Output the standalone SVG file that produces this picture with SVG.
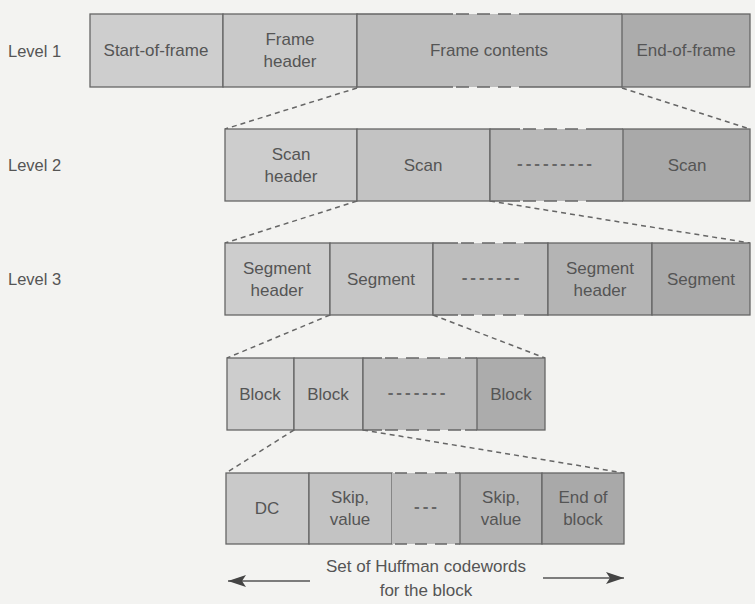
<svg xmlns="http://www.w3.org/2000/svg" width="755" height="604" viewBox="0 0 755 604">
<defs>
<style>
text{font-family:"Liberation Sans",Arial,sans-serif;font-size:17px;fill:#555;text-anchor:middle}
.lvl{text-anchor:start;font-size:16.5px}
.c{stroke:#666;stroke-width:1.3}
.side{stroke:#666;stroke-width:1.3;fill:none}
.dash{stroke:#666;stroke-width:1.3;stroke-dasharray:13 8;fill:none}
.conn{stroke:#666;stroke-width:1.5;stroke-dasharray:5 4;fill:none}
.dots{letter-spacing:3px;font-weight:bold;fill:#666}
.arr{stroke:#555;stroke-width:1.6;fill:none}
</style>
<marker id="ah" viewBox="0 0 18 12" refX="18" refY="6" markerWidth="18" markerHeight="12" markerUnits="userSpaceOnUse" orient="auto">
<path d="M0,0 L18,6 L0,12 L4,6 Z" fill="#444"/>
</marker>
</defs>
<rect width="755" height="604" fill="#f3f3f1"/>

<g id="labels">
<text class="lvl" x="8" y="57">Level 1</text>
<text class="lvl" x="8" y="171">Level 2</text>
<text class="lvl" x="8" y="285">Level 3</text>
</g>

<g id="connectors">
<line class="conn" x1="357" y1="88" x2="225" y2="129"/>
<line class="conn" x1="622" y1="88" x2="750" y2="129"/>
<line class="conn" x1="357" y1="201" x2="225" y2="243"/>
<line class="conn" x1="490" y1="201" x2="750" y2="243"/>
<line class="conn" x1="330" y1="315" x2="227" y2="358"/>
<line class="conn" x1="433" y1="315" x2="545" y2="358"/>
<line class="conn" x1="294" y1="430" x2="226" y2="473"/>
<line class="conn" x1="363" y1="430" x2="624" y2="473"/>
</g>

<!-- Level 1 -->
<g id="start-of-frame">
<rect class="c" x="90" y="14" width="133" height="73" fill="#cecece"/>
<text x="156" y="56">Start-of-frame</text>
</g>
<g id="frame-header">
<rect class="c" x="223" y="14" width="134" height="73" fill="#c9c9c9"/>
<text x="290" y="45">Frame</text>
<text x="290" y="67">header</text>
</g>
<g id="frame-contents">
<rect x="357" y="14" width="265" height="73" fill="#bdbdbd"/>
<path class="side" d="M453,14 H357 V87 H453 M527,14 H622 M527,87 H622"/>
<path class="dash" d="M456,14 H527 M456,87 H527"/>
<text x="489" y="56">Frame contents</text>
</g>
<g id="end-of-frame">
<rect class="c" x="622" y="14" width="128" height="73" fill="#acacac"/>
<text x="686" y="56">End-of-frame</text>
</g>

<!-- Level 2 -->
<g id="scan-header">
<rect class="c" x="225" y="129" width="132" height="72" fill="#cdcdcd"/>
<text x="291" y="160">Scan</text>
<text x="291" y="182">header</text>
</g>
<g id="scan-1">
<rect class="c" x="357" y="129" width="133" height="72" fill="#c3c3c3"/>
<text x="423" y="171">Scan</text>
</g>
<g id="scan-dots">
<rect x="490" y="129" width="133" height="72" fill="#b8b8b8"/>
<path class="side" d="M520,129 H490 V201 H520 M591,129 H623 M591,201 H623"/>
<path class="dash" d="M523,129 H591 M523,201 H591"/>
<text class="dots" x="556" y="169">---------</text>
</g>
<g id="scan-2">
<rect class="c" x="623" y="129" width="127" height="72" fill="#a9a9a9"/>
<text x="687" y="171">Scan</text>
</g>

<!-- Level 3 -->
<g id="segment-header-1">
<rect class="c" x="225" y="243" width="105" height="72" fill="#cdcdcd"/>
<text x="277" y="274">Segment</text>
<text x="277" y="296">header</text>
</g>
<g id="segment-1">
<rect class="c" x="330" y="243" width="103" height="72" fill="#c6c6c6"/>
<text x="381" y="285">Segment</text>
</g>
<g id="segment-dots">
<rect x="433" y="243" width="115" height="72" fill="#bdbdbd"/>
<path class="side" d="M458,243 H433 V315 H458 M530,243 H548 V315 H530"/>
<path class="dash" d="M461,243 H530 M461,315 H530"/>
<text class="dots" x="492" y="283">-------</text>
</g>
<g id="segment-header-2">
<rect class="c" x="548" y="243" width="104" height="72" fill="#b4b4b4"/>
<text x="600" y="274">Segment</text>
<text x="600" y="296">header</text>
</g>
<g id="segment-2">
<rect class="c" x="652" y="243" width="98" height="72" fill="#aaaaaa"/>
<text x="701" y="285">Segment</text>
</g>

<!-- Level 4 -->
<g id="block-1">
<rect class="c" x="227" y="358" width="67" height="72" fill="#cdcdcd"/>
<text x="260" y="400">Block</text>
</g>
<g id="block-2">
<rect class="c" x="294" y="358" width="69" height="72" fill="#c8c8c8"/>
<text x="328" y="400">Block</text>
</g>
<g id="block-dots">
<rect x="363" y="358" width="114" height="72" fill="#bcbcbc"/>
<path class="side" d="M382,358 H363 V430 H382 M465,358 H477 M465,430 H477"/>
<path class="dash" d="M385,358 H465 M385,430 H465"/>
<text class="dots" x="418" y="398">-------</text>
</g>
<g id="block-3">
<rect class="c" x="477" y="358" width="68" height="72" fill="#acacac"/>
<text x="511" y="400">Block</text>
</g>

<!-- Level 5 -->
<g id="dc">
<rect class="c" x="226" y="473" width="83" height="71" fill="#c9c9c9"/>
<text x="267" y="514">DC</text>
</g>
<g id="skip-value-1">
<rect class="c" x="309" y="473" width="83" height="71" fill="#c3c3c3"/>
<text x="350" y="503">Skip,</text>
<text x="350" y="525">value</text>
</g>
<g id="huff-dots">
<rect x="392" y="473" width="68" height="71" fill="#bdbdbd"/>
<path class="dash" d="M395,473 H460 M395,544 H460" style="stroke-dasharray:12 8"/>
<text class="dots" x="427" y="512">---</text>
</g>
<g id="skip-value-2">
<rect class="c" x="460" y="473" width="82" height="71" fill="#b3b3b3"/>
<text x="501" y="503">Skip,</text>
<text x="501" y="525">value</text>
</g>
<g id="end-of-block">
<rect class="c" x="542" y="473" width="82" height="71" fill="#a9a9a9"/>
<text x="583" y="503">End of</text>
<text x="583" y="525">block</text>
</g>

<g id="caption">
<line class="arr" x1="310" y1="581" x2="228" y2="581" marker-end="url(#ah)"/>
<line class="arr" x1="543" y1="578" x2="624" y2="578" marker-end="url(#ah)"/>
<text x="426" y="572">Set of Huffman codewords</text>
<text x="426" y="596">for the block</text>
</g>
</svg>
